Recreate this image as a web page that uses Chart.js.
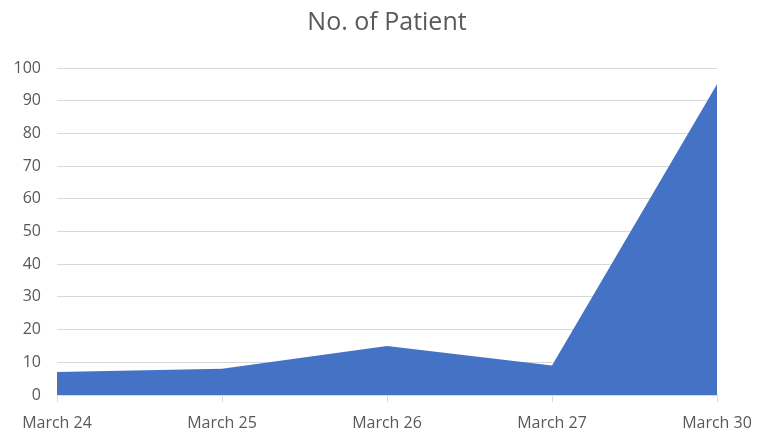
<!DOCTYPE html>
<html>
<head>
<meta charset="utf-8">
<script src="https://cdn.jsdelivr.net/npm/chart.js@4/dist/chart.umd.min.js"></script>
<style>
html,body{margin:0;padding:0;background:#fff;}
#c{display:block;}
</style>
</head>
<body>
<canvas id="c" width="760" height="433"></canvas>
<script>
const categories = ["March 24", "March 25", "March 26", "March 27", "March 30"];
const patients = [7, 8, 15, 9, 95];
const yTicks = [0, 10, 20, 30, 40, 50, 60, 70, 80, 90, 100];
const chartTitle = "No. of Patient";

const FONT = "'Open Sans', 'Noto Sans', sans-serif";
const GREY = "#595959";

new Chart(document.getElementById('c'), {
  type: 'line',
  data: {
    labels: categories,
    datasets: [{
      label: chartTitle,
      data: patients,
      fill: 'origin',
      backgroundColor: '#4472C4',
      borderColor: '#4472C4',
      borderWidth: 0,
      pointRadius: 0,
      tension: 0
    }]
  },
  options: {
    responsive: false,
    animation: false,
    layout: { padding: { left: 0, right: 43, top: 5, bottom: 0 } },
    plugins: {
      legend: { display: false },
      tooltip: { enabled: false },
      title: {
        display: true,
        fullSize: false,
        text: chartTitle,
        color: GREY,
        font: { family: FONT, size: 25, weight: 'normal' },
        padding: { top: 3, bottom: 30 }
      }
    },
    scales: {
      x: {
        type: 'category',
        offset: false,
        grid: {
          display: true,
          drawOnChartArea: false,
          drawTicks: true,
          tickLength: 7,
          color: '#d9d9d9'
        },
        border: { display: true, color: '#d9d9d9', width: 1 },
        ticks: {
          color: GREY,
          font: { family: FONT, size: 16 },
          padding: 12,
          maxRotation: 0,
          autoSkip: false
        },
        afterFit: (s) => { s.height = 38; s.paddingRight = 0; s.paddingLeft = 0; }
      },
      y: {
        min: 0,
        max: 100,
        afterBuildTicks: (s) => { s.ticks = yTicks.map(v => ({ value: v })); },
        grid: { color: '#d9d9d9', drawTicks: false, lineWidth: 1 },
        border: { display: false },
        ticks: {
          color: GREY,
          font: { family: FONT, size: 16 },
          padding: 16
        },
        afterFit: (s) => { s.width = 57; }
      }
    }
  }
});
</script>
</body>
</html>
